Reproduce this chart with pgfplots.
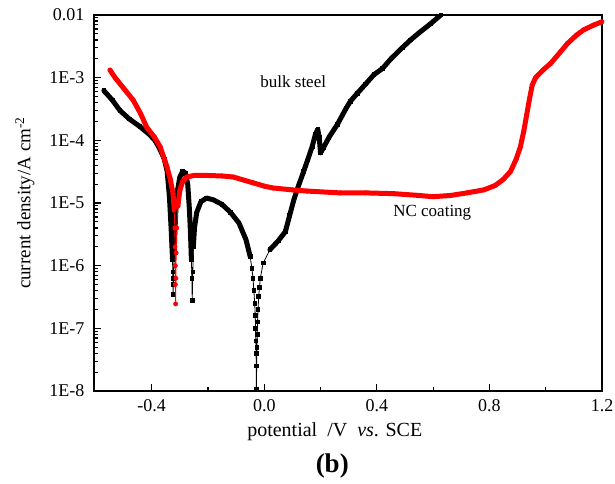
\documentclass[border=0pt]{standalone}
\usepackage{pgfplots}
\pgfplotsset{compat=1.18}
\usepackage{pgfplotstable}
\usepackage{fontspec}
\setmainfont{Liberation Serif}

\pgfplotstableread{
x y
-0.570 6.2e-4
-0.540 4.4e-4
-0.513 3.0e-4
-0.480 2.2e-4
-0.442 1.66e-4
-0.410 1.26e-4
-0.388 1.0e-4
-0.370 7.1e-5
-0.355 5.0e-5
-0.345 3.2e-5
-0.337 1.26e-5
-0.331 4.0e-6
-0.328 2.0e-6
-0.326 1.26e-6
-0.325 7.9e-7
-0.324 5.0e-7
-0.324 3.5e-7
-0.322 6.3e-7
-0.320 1.6e-6
-0.318 3.2e-6
-0.314 7.9e-6
-0.308 1.6e-5
-0.300 2.6e-5
-0.290 3.2e-5
-0.280 3.0e-5
-0.272 2.0e-5
-0.266 7.9e-6
-0.262 3.2e-6
-0.259 1.26e-6
-0.257 6.3e-7
-0.256 2.8e-7
-0.254 7.9e-7
-0.252 2.0e-6
-0.248 4.0e-6
-0.240 7.1e-6
-0.225 1.05e-5
-0.205 1.2e-5
-0.180 1.12e-5
-0.150 9.5e-6
-0.120 7.1e-6
-0.090 4.8e-6
-0.065 2.6e-6
-0.050 1.4e-6
-0.044 9.0e-7
-0.040 6.3e-7
-0.037 4.0e-7
-0.034 2.5e-7
-0.032 1.6e-7
-0.031 1.0e-7
-0.030 6.3e-8
-0.029 4.0e-8
-0.028 1.07e-8
-0.027 2.5e-8
-0.026 5.0e-8
-0.025 8.0e-8
-0.024 1.26e-7
-0.022 2.0e-7
-0.020 3.2e-7
-0.017 4.5e-7
-0.014 6.3e-7
-0.004 1.1e-6
0.020 1.8e-6
0.050 2.5e-6
0.075 3.5e-6
0.090 6.3e-6
0.105 1.12e-5
0.120 1.8e-5
0.140 3.2e-5
0.155 5.0e-5
0.170 7.9e-5
0.182 1.26e-4
0.190 1.5e-4
0.195 1.12e-4
0.200 6.3e-5
0.210 7.6e-5
0.230 1.12e-4
0.260 1.8e-4
0.290 3.2e-4
0.306 4.2e-4
0.330 5.6e-4
0.360 7.9e-4
0.390 1.12e-3
0.420 1.4e-3
0.450 2.0e-3
0.490 3.0e-3
0.520 4.0e-3
0.550 5.2e-3
0.590 7.2e-3
0.627 1.0e-2
}\bulk

\pgfplotstableread{
x y
-0.548 1.32e-3
-0.530 1.0e-3
-0.500 6.8e-4
-0.466 4.4e-4
-0.440 2.7e-4
-0.417 1.6e-4
-0.390 1.12e-4
-0.370 7.9e-5
-0.346 3.8e-5
-0.334 2.4e-5
-0.324 1.4e-5
-0.320 7.9e-6
-0.318 4.0e-6
-0.317 2.0e-6
-0.316 1.0e-6
-0.316 5.0e-7
-0.315 2.45e-7
-0.314 6.3e-7
-0.313 1.6e-6
-0.311 4.0e-6
-0.307 8.9e-6
-0.300 1.6e-5
-0.290 2.2e-5
-0.275 2.6e-5
-0.250 2.75e-5
-0.200 2.75e-5
-0.150 2.7e-5
-0.110 2.6e-5
-0.070 2.3e-5
-0.040 2.1e-5
0.000 1.86e-5
0.030 1.74e-5
0.100 1.62e-5
0.153 1.55e-5
0.270 1.45e-5
0.360 1.45e-5
0.460 1.41e-5
0.550 1.32e-5
0.600 1.26e-5
0.662 1.32e-5
0.720 1.45e-5
0.780 1.62e-5
0.820 1.9e-5
0.850 2.4e-5
0.875 3.2e-5
0.895 5.0e-5
0.910 7.9e-5
0.922 1.4e-4
0.932 2.5e-4
0.942 4.5e-4
0.952 7.6e-4
0.964 1.0e-3
0.990 1.32e-3
1.018 1.7e-3
1.050 2.5e-3
1.077 3.5e-3
1.110 4.8e-3
1.135 5.8e-3
1.170 6.9e-3
1.200 7.8e-3
}\coating

\begin{document}
\begin{tikzpicture}
\useasboundingbox (-94pt,-92pt) rectangle (521pt,391pt);
\begin{axis}[
  scale only axis,
  width=508pt, height=376pt,
  ymode=log,
  xmin=-0.605, xmax=1.2,
  ymin=1e-8, ymax=1e-2,
  axis line style={line width=1.4pt},
  tick pos=left,
  tick align=inside,
  xtick={-0.4,0,0.4,0.8,1.2},
  xticklabels={-0.4,0.0,0.4,0.8,1.2},
  minor xtick={-0.2,0.2,0.6,1.0},
  ytick={1e-8,1e-7,1e-6,1e-5,1e-4,1e-3,1e-2},
  yticklabels={1E-8,1E-7,1E-6,1E-5,1E-4,1E-3,0.01},
  major tick length=7pt,
  minor tick length=4pt,
  every tick/.style={black, line width=1.2pt},
  ticklabel style={font=\fontsize{18}{20}\selectfont},
  xticklabel style={yshift=-5pt},
  yticklabel style={xshift=-6pt},
  clip mode=individual,
]
\addplot[black, line width=0.8pt, mark=square*, mark size=1.8pt] table {\bulk};
\addplot[black, line width=5pt, line cap=round, line join=round, restrict y to domain=-13.6:0, unbounded coords=jump] table {\bulk};
\addplot[red, line width=0.8pt, mark=*, mark size=2pt] table {\coating};
\addplot[red, line width=5pt, line cap=round, line join=round, restrict y to domain=-12.0:0, unbounded coords=jump] table {\coating};

\node[font=\fontsize{17}{19}\selectfont] at (axis cs:0.103,8.5e-4) {bulk steel};
\node[font=\fontsize{17}{19}\selectfont] at (axis cs:0.597,6.9e-6) {NC coating};

\node[anchor=base, font=\fontsize{20}{22}\selectfont] at (axis description cs:0.474,-0.122) {potential\ \ /V\ \ \textit{vs}. SCE};
\node[anchor=base, font=\fontsize{27}{29}\selectfont\bfseries] at (axis description cs:0.469,-0.218) {(b)};
\node[rotate=90, font=\fontsize{19}{21}\selectfont] at (axis description cs:-0.136,0.5) {current density/A cm\textsuperscript{-2}};
\end{axis}
\end{tikzpicture}
\end{document}
